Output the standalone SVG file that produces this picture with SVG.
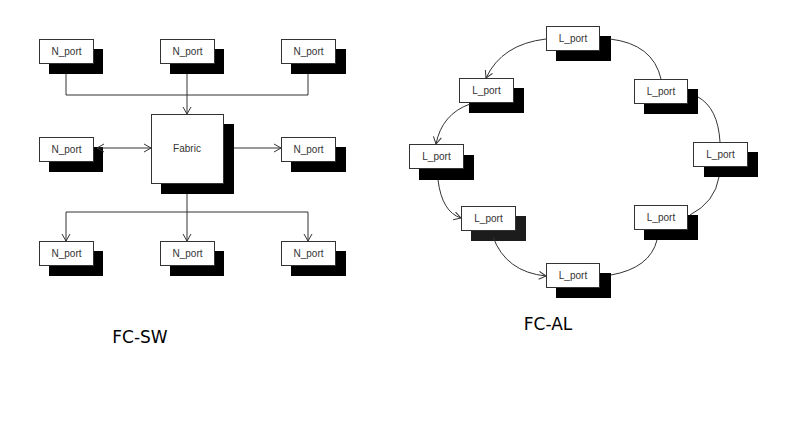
<svg xmlns="http://www.w3.org/2000/svg" width="800" height="439" viewBox="0 0 800 439">
<style>
.box{fill:#fff;stroke:#333;stroke-width:1}
.sh{fill:#000}
.lbl{font-family:"Liberation Sans",Arial,sans-serif;font-size:10px;fill:#333;text-anchor:middle}
.ttl{font-family:"DejaVu Sans",Verdana,sans-serif;font-size:17px;fill:#000;text-anchor:middle}
.c{fill:none;stroke:#333;stroke-width:1}
</style>
<defs>
<marker id="ah" markerUnits="userSpaceOnUse" markerWidth="10" markerHeight="10" viewBox="0 0 10 10" refX="9" refY="5" orient="auto">
<path d="M2,1 L9,5 L2,9" fill="none" stroke="#333" stroke-width="1"/>
</marker>
<marker id="as" markerUnits="userSpaceOnUse" markerWidth="10" markerHeight="10" viewBox="0 0 10 10" refX="1" refY="5" orient="auto">
<path d="M8,1 L1,5 L8,9" fill="none" stroke="#333" stroke-width="1"/>
</marker>
</defs>
<rect width="800" height="439" fill="#fff"/>

<g id="n_top_left"><rect class="sh" x="49" y="49" width="54" height="25"/><rect class="box" x="39.5" y="39.5" width="54" height="24"/><text class="lbl" x="66.5" y="55">N_port</text></g>
<g id="n_top_mid"><rect class="sh" x="170" y="49" width="54" height="25"/><rect class="box" x="160.5" y="39.5" width="54" height="24"/><text class="lbl" x="187.5" y="55">N_port</text></g>
<g id="n_top_right"><rect class="sh" x="291" y="49" width="55" height="25"/><rect class="box" x="281.5" y="39.5" width="54" height="24"/><text class="lbl" x="308.5" y="55">N_port</text></g>
<g id="n_mid_left"><rect class="sh" x="49" y="147" width="54" height="25"/><rect class="box" x="39.5" y="137.5" width="54" height="24"/><text class="lbl" x="66.5" y="153">N_port</text></g>
<g id="n_mid_right"><rect class="sh" x="291" y="147" width="55" height="25"/><rect class="box" x="281.5" y="137.5" width="54" height="24"/><text class="lbl" x="308.5" y="153">N_port</text></g>
<g id="n_bot_left"><rect class="sh" x="49" y="251" width="54" height="25"/><rect class="box" x="39.5" y="241.5" width="54" height="24"/><text class="lbl" x="66.5" y="257">N_port</text></g>
<g id="n_bot_mid"><rect class="sh" x="170" y="251" width="54" height="25"/><rect class="box" x="160.5" y="241.5" width="54" height="24"/><text class="lbl" x="187.5" y="257">N_port</text></g>
<g id="n_bot_right"><rect class="sh" x="291" y="251" width="55" height="25"/><rect class="box" x="281.5" y="241.5" width="54" height="24"/><text class="lbl" x="308.5" y="257">N_port</text></g>
<g id="fabric"><rect class="sh" x="161" y="124" width="73" height="70"/><rect class="box" x="151.5" y="114.5" width="72" height="69"/><text class="lbl" x="187" y="152">Fabric</text></g>

<g id="l_top"><rect class="sh" x="556" y="36" width="55" height="25"/><rect class="box" x="546.5" y="26.5" width="53" height="24"/><text class="lbl" x="573" y="42">L_port</text></g>
<g id="l_ul"><rect class="sh" x="469" y="88" width="55" height="25"/><rect class="box" x="459.5" y="78.5" width="54" height="24"/><text class="lbl" x="486.5" y="94">L_port</text></g>
<g id="l_left"><rect class="sh" x="419" y="155" width="55" height="25"/><rect class="box" x="409.5" y="144.5" width="54" height="24"/><text class="lbl" x="436.5" y="160">L_port</text></g>
<g id="l_ll"><rect x="471" y="216" width="55" height="25" fill="#1c1c1c"/><rect class="box" x="461.5" y="206.5" width="54" height="24"/><text class="lbl" x="488.5" y="222">L_port</text></g>
<g id="l_bot"><rect class="sh" x="556" y="273" width="55" height="25"/><rect class="box" x="546.5" y="263.5" width="53" height="24"/><text class="lbl" x="573" y="279">L_port</text></g>
<g id="l_lr"><rect class="sh" x="644" y="215" width="54" height="25"/><rect class="box" x="634.5" y="205.5" width="53" height="24"/><text class="lbl" x="661" y="221">L_port</text></g>
<g id="l_right"><rect class="sh" x="704" y="152" width="54" height="25"/><rect class="box" x="693.5" y="142.5" width="54" height="24"/><text class="lbl" x="720.5" y="158">L_port</text></g>
<g id="l_ur"><rect class="sh" x="644" y="89" width="54" height="25"/><rect class="box" x="634.5" y="79.5" width="53" height="24"/><text class="lbl" x="661" y="95">L_port</text></g>

<g id="connectors">
<path class="c" d="M66,74 V95 H308 V74"/>
<path class="c" d="M187,74 V114" marker-end="url(#ah)"/>
<path class="c" d="M97,148 H151" marker-start="url(#as)" marker-end="url(#ah)"/>
<path class="c" d="M234,148 H281" marker-end="url(#ah)"/>
<path class="c" d="M187,194 V212 M66,212 H308"/>
<path class="c" d="M66,212 V241" marker-end="url(#ah)"/>
<path class="c" d="M187,212 V241" marker-end="url(#ah)"/>
<path class="c" d="M308,212 V241" marker-end="url(#ah)"/>

<path class="c" d="M546,39 Q502,44 486,78" marker-end="url(#ah)"/>
<path class="c" d="M470,104 Q442,114 436,144" marker-end="url(#ah)"/>
<path class="c" d="M438,180 Q442,212 461,218" marker-end="url(#ah)"/>
<path class="c" d="M493,237 Q506,272 546,276" marker-end="url(#ah)"/>
<path class="c" d="M611,275 Q650,268 657,240"/>
<path class="c" d="M690,215 Q715,202 719,177"/>
<path class="c" d="M720,142 Q718,108 698,97"/>
<path class="c" d="M661,79 Q653,44 610,39"/>
</g>

<text class="ttl" x="140" y="343">FC-SW</text>
<text class="ttl" x="548" y="330">FC-AL</text>
</svg>
